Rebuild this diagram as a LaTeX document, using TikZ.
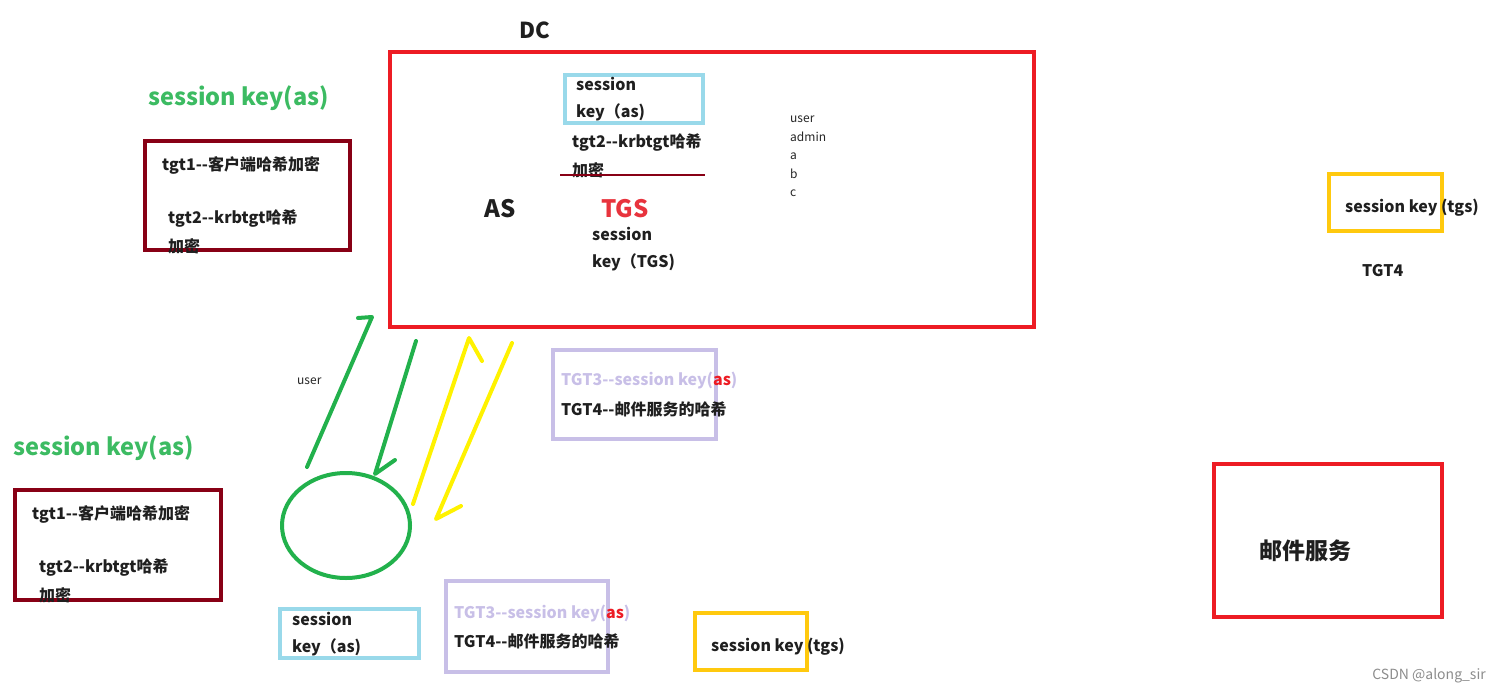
\documentclass[tikz,border=0pt]{standalone}
\usepackage{fontspec}
\setmainfont{Noto Sans CJK SC}
\usetikzlibrary{shapes.geometric}

\definecolor{dcred}{HTML}{ED1C24}
\definecolor{tgsred}{HTML}{E8333D}
\definecolor{dred}{HTML}{880015}
\definecolor{lblue}{HTML}{99D9EA}
\definecolor{lpurple}{HTML}{C8BFE7}
\definecolor{kyellow}{HTML}{FFC90E}
\definecolor{ayellow}{HTML}{FFF200}
\definecolor{cgreen}{HTML}{22B14C}
\definecolor{hgreen}{HTML}{3CBB62}

\begin{document}
\begin{tikzpicture}[x=1pt, y=-1pt,
  bx/.style={draw, line width=4pt, inner sep=0pt, fill=none},
  txt/.style={font=\fontsize{16}{19}\selectfont\bfseries, text=black!88, inner sep=0pt, anchor=west},
  big/.style={font=\fontsize{24}{28}\selectfont\bfseries, text=black!88, inner sep=0pt},
  hd/.style={font=\fontsize{23.5}{27}\selectfont\bfseries, text=hgreen, inner sep=0pt, anchor=west},
  sm/.style={font=\fontsize{12}{14}\selectfont, text=black!85, inner sep=0pt, anchor=west},
  g/.style={draw=cgreen, line width=4pt, line cap=round, line join=round},
  yl/.style={draw=ayellow, line width=4pt, line cap=round, line join=round}]
\useasboundingbox (0,0) rectangle (1501,693);

% DC
\node[big, font=\fontsize{22}{26}\selectfont\bfseries] (dc) at (535,30) {DC};
\node[bx, draw=dcred, minimum width=644, minimum height=275] (dcbox) at (712,189.5) {};
\node[bx, draw=lblue, minimum width=138, minimum height=48] (askey) at (634,99) {};
\node[txt] (askey1) at (576,84) {session};
\node[txt] (askey2) at (576,112) {key（as)};
\node[txt] (tgt2a) at (572,143) {tgt2-{}-krbtgt哈希};
\node[txt] (tgt2b) at (572,170) {加密};
\coordinate (ulA) at (560,175);
\coordinate (ulB) at (705,175);
\draw[dred, line width=1.5pt] (ulA) -- (ulB);
\node[big] (as) at (500,209) {AS};
\node[big, text=tgsred] (tgs) at (625,209) {TGS};
\node[txt] (tgskey1) at (592,234) {session};
\node[txt] (tgskey2) at (592,262) {key（TGS)};
\node[sm] (u1) at (790,119) {user};
\node[sm] (u2) at (790,137) {admin};
\node[sm] (u3) at (790,156) {a};
\node[sm] (u4) at (790,174) {b};
\node[sm] (u5) at (790,193) {c};

% client, top
\node[hd] (hd1) at (148,98) {session key(as)};
\node[bx, draw=dred, minimum width=205, minimum height=109] (tk1) at (247.5,195.5) {};
\node[txt] (tk1a) at (162,165) {tgt1-{}-客户端哈希加密};
\node[txt] (tk1b) at (168,219) {tgt2-{}-krbtgt哈希};
\node[txt] (tk1c) at (168,246) {加密};

% client, bottom
\node[hd] (hd2) at (13,448) {session key(as)};
\node[bx, draw=dred, minimum width=206, minimum height=110] (tk2) at (118,545) {};
\node[txt] (tk2a) at (32,514) {tgt1-{}-客户端哈希加密};
\node[txt] (tk2b) at (39,568) {tgt2-{}-krbtgt哈希};
\node[txt] (tk2c) at (39,595) {加密};

\node[ellipse, draw=cgreen, line width=4pt, minimum width=128, minimum height=105] (cl) at (346,525.5) {};
\node[sm] (usr) at (297,381) {user};

% arrows
\coordinate (g1s) at (307,467);
\coordinate (g1e) at (372,317);
\coordinate (g2s) at (416,341);
\coordinate (g2e) at (375,474);
\coordinate (y1s) at (413,504);
\coordinate (y1e) at (469,338);
\coordinate (y2s) at (512,343);
\coordinate (y2e) at (436,519);
\draw[g] (g1s) -- (g1e) -- ++(-14,1);
\draw[g] (g2s) -- (g2e) -- ++(20,-14);
\draw[yl] (y1s) -- (y1e) -- ++(13,23);
\draw[yl] (y2s) -- (y2e) -- ++(25,-13);

% tickets
\node[bx, draw=lpurple, minimum width=163, minimum height=89] (tk3) at (634.5,394.5) {};
\node[txt, text=lpurple] (tk3a) at (561,381) {TGT3-{}-session key(\textcolor{dcred}{as})};
\node[txt] (tk3b) at (561,409) {TGT4-{}-邮件服务的哈希};

\node[bx, draw=lblue, minimum width=139, minimum height=49] (askey3) at (349.5,633.5) {};
\node[txt] (askey3a) at (292,619) {session};
\node[txt] (askey3b) at (292,647) {key（as)};

\node[bx, draw=lpurple, minimum width=162, minimum height=91] (tk4) at (527,626.5) {};
\node[txt, text=lpurple] (tk4a) at (454,614) {TGT3-{}-session key(\textcolor{dcred}{as})};
\node[txt] (tk4b) at (454,641) {TGT4-{}-邮件服务的哈希};

\node[bx, draw=kyellow, minimum width=112, minimum height=57] (tgk1) at (751,641.5) {};
\node[txt] (tgk1a) at (711,647) {session key (tgs)};

% mail server
\node[bx, draw=kyellow, minimum width=113, minimum height=57] (tgk2) at (1385.5,202.5) {};
\node[txt] (tgk2a) at (1345,208) {session key (tgs)};
\node[txt] (tgt4) at (1362,271) {TGT4};
\node[bx, draw=dcred, minimum width=228, minimum height=153] (mail) at (1328,540.5) {};
\node[big, font=\fontsize{23}{27}\selectfont\bfseries] (mailt) at (1305,551) {邮件服务};

\node[sm, anchor=east, text=black!45, font=\fontsize{14}{16}\selectfont] (wm) at (1486,676) {CSDN @along\_sir};
\end{tikzpicture}
\end{document}
